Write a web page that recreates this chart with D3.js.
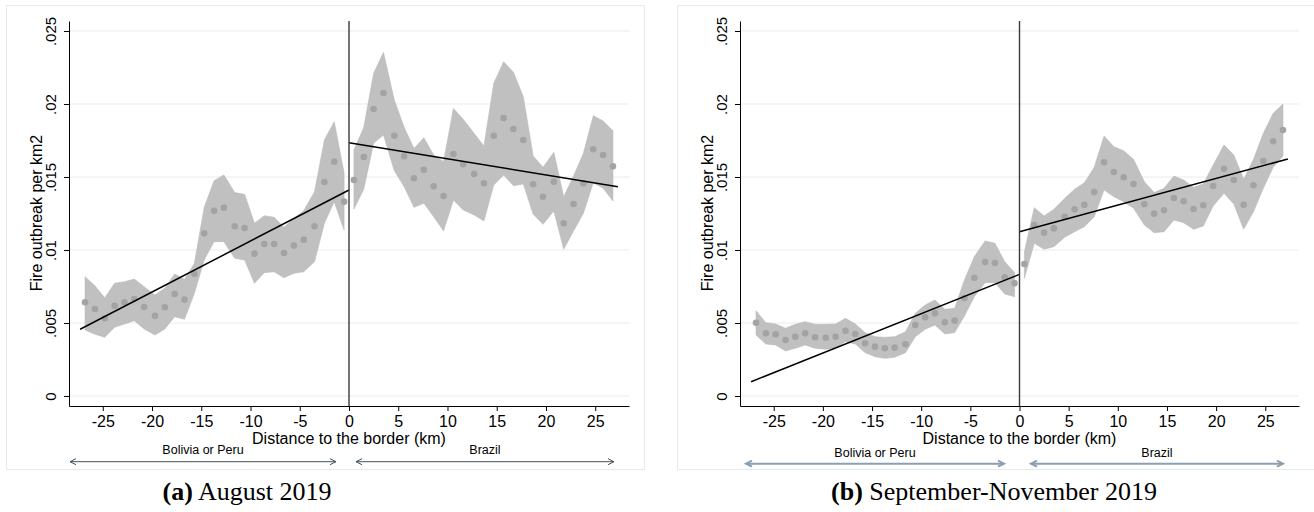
<!DOCTYPE html>
<html>
<head>
<meta charset="utf-8">
<script src="https://cdn.jsdelivr.net/npm/d3@7"></script>
<style>
  html, body { margin: 0; padding: 0; background: #fff; }
  svg { display: block; }
</style>
</head>
<body>
<svg id="chart" width="1314" height="512"></svg>
<script>
// ---------------- DATA ----------------
const leftBins  = [-26.8,-25.8,-24.8,-23.8,-22.8,-21.8,-20.8,-19.7,-18.7,-17.7,-16.7,-15.7,-14.7,-13.7,-12.7,-11.6,-10.6,-9.6,-8.6,-7.6,-6.6,-5.6,-4.6,-3.5,-2.5,-1.5,-0.5];
const rightBins = [0.5,1.5,2.5,3.5,4.6,5.6,6.6,7.6,8.6,9.6,10.6,11.6,12.7,13.7,14.7,15.7,16.7,17.7,18.7,19.7,20.8,21.8,22.8,23.8,24.8,25.8,26.8];

const xTicks = [-25,-20,-15,-10,-5,0,5,10,15,20,25];
const xTickLabels = ["-25","-20","-15","-10","-5","0","5","10","15","20","25"];
const yTicks = [0,0.005,0.01,0.015,0.02,0.025];
const yTickLabels = ["0",".005",".01",".015",".02",".025"];

// Panel (a) August 2019
const aLeftMean  = [0.00642,0.00596,0.00532,0.00618,0.00642,0.00664,0.0061,0.0055,0.00608,0.00699,0.0066,0.00838,0.01114,0.01269,0.0129,0.01162,0.01151,0.00975,0.01041,0.01041,0.00979,0.0103,0.01071,0.01162,0.01466,0.01605,0.01331];
const aLeftUpper = [0.00817,0.00755,0.00673,0.00772,0.00783,0.00801,0.00749,0.00692,0.00738,0.00836,0.00799,0.00909,0.01292,0.01475,0.01514,0.01393,0.01381,0.01183,0.01235,0.01224,0.01155,0.01217,0.01269,0.01399,0.01753,0.01879,0.01529];
const aLeftLower = [0.00452,0.00423,0.00402,0.00471,0.00493,0.00516,0.00459,0.00418,0.00459,0.00543,0.00525,0.00703,0.00932,0.01057,0.01057,0.00943,0.00932,0.00772,0.00845,0.00851,0.0081,0.0084,0.00851,0.0092,0.01183,0.01331,0.01137];
const aRightMean  = [0.01479,0.01637,0.01966,0.02075,0.01783,0.01642,0.01491,0.0155,0.01436,0.0137,0.01658,0.01587,0.01521,0.01457,0.01783,0.01904,0.01829,0.01753,0.0145,0.01365,0.01468,0.01183,0.01315,0.01457,0.0169,0.01651,0.01573];
const aRightUpper = [0.01685,0.0184,0.0221,0.02354,0.02027,0.0184,0.01696,0.01769,0.01651,0.01605,0.0197,0.01895,0.01799,0.01712,0.02142,0.0229,0.02217,0.0205,0.01644,0.01566,0.01669,0.01365,0.01507,0.01662,0.0192,0.01884,0.01817];
const aRightLower = [0.01279,0.01416,0.01731,0.01788,0.01543,0.01434,0.01292,0.0132,0.01228,0.0113,0.01342,0.01274,0.0124,0.01199,0.01445,0.01514,0.0144,0.01452,0.01245,0.01176,0.01267,0.01005,0.0113,0.01251,0.01461,0.01423,0.01336];
const aFitLeftX = [-27.3, 0],  aFitLeftY = [0.00457, 0.01411];
const aFitRightX = [0, 27.3],  aFitRightY = [0.01735, 0.01434];

// Panel (b) September-November 2019
const bLeftMean  = [0.00502,0.00429,0.00423,0.00384,0.00406,0.00429,0.00402,0.00399,0.00406,0.00447,0.00425,0.00361,0.00338,0.00327,0.00331,0.00354,0.00486,0.00539,0.00566,0.00505,0.00516,0.00671,0.0081,0.00918,0.00911,0.00813,0.00772];
const bLeftUpper = [0.00584,0.00502,0.00493,0.00464,0.00491,0.00509,0.00491,0.00491,0.00493,0.00532,0.00493,0.00434,0.00406,0.00402,0.00406,0.0044,0.00566,0.00623,0.00658,0.00594,0.00601,0.00795,0.00954,0.01062,0.01046,0.0092,0.00845];
const bLeftLower = [0.00418,0.00356,0.00349,0.00308,0.00327,0.00349,0.00327,0.0032,0.00327,0.00372,0.00356,0.00297,0.00269,0.00258,0.00265,0.00297,0.00406,0.00457,0.00486,0.00425,0.00434,0.00548,0.0068,0.00776,0.00776,0.00699,0.0068];
const bRightMean  = [0.00904,0.01171,0.01119,0.01148,0.01228,0.01279,0.0131,0.01397,0.01601,0.01534,0.01498,0.01452,0.01313,0.01249,0.01272,0.01356,0.01334,0.01281,0.01306,0.01438,0.01557,0.01479,0.0131,0.01443,0.0161,0.01745,0.01822];
const bRightUpper = [0.00988,0.0129,0.01233,0.01279,0.01354,0.01416,0.01461,0.01566,0.01781,0.01708,0.0168,0.01621,0.01468,0.01393,0.01423,0.01507,0.01479,0.01429,0.01452,0.01582,0.01719,0.01651,0.01484,0.01621,0.01799,0.01936,0.02];
const bRightLower = [0.00806,0.01046,0.01005,0.01023,0.01087,0.01125,0.0116,0.01228,0.01411,0.01365,0.01331,0.01286,0.01171,0.01119,0.01125,0.01205,0.01187,0.01142,0.01164,0.01301,0.01388,0.01315,0.01142,0.01262,0.01423,0.01566,0.01644];
const bFitLeftX = [-27.3, 0],  bFitLeftY = [0.00098, 0.00833];
const bFitRightX = [0, 27.3],  bFitRightY = [0.01125, 0.01623];

const yTitle = "Fire outbreak per km2";
const xTitle = "Distance to the border (km)";
const sideLabels = ["Bolivia or Peru", "Brazil"];
const captionTags = ["(a)", "(b)"];
const captionTexts = ["August 2019", "September-November 2019"];

// ---------------- DRAW ----------------
const svg = d3.select("#chart");
const SANS = "'Liberation Sans', Arial, Helvetica, sans-serif";
const SERIF = "'Liberation Serif', 'Times New Roman', serif";

function zip(xs, m, lo, hi) { return xs.map((x, i) => ({x, m: m[i], lo: lo[i], hi: hi[i]})); }

function drawPanel(cfg) {
  const g = svg.append("g");
  const x = d3.scaleLinear().domain([-28.43, 28.43]).range([cfg.x0, cfg.x1]);
  const y = d3.scaleLinear().domain([-0.000685, 0.025685]).range([406, 21]);

  // outer frame
  g.append("rect").attr("x", cfg.fx0 + 0.5).attr("y", 5.5)
    .attr("width", cfg.fx1 - cfg.fx0).attr("height", 464)
    .attr("fill", "none").attr("stroke", "#e4ebee").attr("stroke-width", 1);

  // gridlines
  g.selectAll(".grid").data(yTicks).enter().append("line")
    .attr("x1", cfg.x0).attr("x2", cfg.x1)
    .attr("y1", d => y(d)).attr("y2", d => y(d))
    .attr("stroke", "#e3edf0").attr("stroke-width", 1);

  const area = d3.area().x(d => x(d.x)).y0(d => y(d.lo)).y1(d => y(d.hi));
  const sides = [zip(leftBins, cfg.lm, cfg.ll, cfg.lu), zip(rightBins, cfg.rm, cfg.rl, cfg.ru)];
  sides.forEach(data => {
    g.append("path").datum(data).attr("d", area)
      .attr("fill", "#c0c0c0").attr("stroke", "#bbbbbb").attr("stroke-width", 0.6);
  });
  sides.forEach(data => {
    g.selectAll(null).data(data).enter().append("circle")
      .attr("cx", d => x(d.x)).attr("cy", d => y(d.m)).attr("r", 3.3)
      .attr("fill", "#a3a3a3");
  });

  // fitted lines
  const line = d3.line().x(d => x(d[0])).y(d => y(d[1]));
  [[cfg.flx, cfg.fly], [cfg.frx, cfg.fry]].forEach(([xs, ys]) => {
    g.append("path").datum(xs.map((v, i) => [v, ys[i]])).attr("d", line)
      .attr("fill", "none").attr("stroke", "#000").attr("stroke-width", 1.5);
  });

  // border line at 0
  g.append("line").attr("x1", x(0)).attr("x2", x(0)).attr("y1", 21).attr("y2", 406)
    .attr("stroke", "#3a3a3a").attr("stroke-width", 1.4);

  // axes
  const ya = g.append("g").attr("transform", `translate(${cfg.x0},0)`)
    .call(d3.axisLeft(y).tickValues(yTicks).tickFormat((d, i) => yTickLabels[i]).tickSize(5).tickSizeOuter(0));
  ya.selectAll("text").attr("transform", "rotate(-90)").attr("x", 0).attr("y", -13)
    .attr("dy", 0).attr("text-anchor", "middle")
    .attr("font-family", SANS).attr("font-size", 15).attr("fill", "#000");
  const xa = g.append("g").attr("transform", "translate(0,406)")
    .call(d3.axisBottom(x).tickValues(xTicks).tickFormat((d, i) => xTickLabels[i]).tickSize(5).tickSizeOuter(0));
  xa.selectAll("text").attr("y", 10).attr("font-family", SANS).attr("font-size", 16).attr("fill", "#000");
  [ya, xa].forEach(a => { a.select(".domain").attr("stroke", "#000"); a.selectAll(".tick line").attr("stroke", "#000"); });

  // titles
  g.append("text").attr("transform", `translate(${cfg.x0 - 27},213) rotate(-90)`)
    .attr("text-anchor", "middle").attr("font-family", SANS).attr("font-size", 16).text(yTitle);
  g.append("text").attr("x", x(0)).attr("y", 444).attr("text-anchor", "middle")
    .attr("font-family", SANS).attr("font-size", 16).text(xTitle);

  // arrows
  const ay = cfg.ay;
  [[cfg.a1, cfg.a2], [cfg.a3, cfg.a4]].forEach(([p, q], k) => {
    const ar = g.append("g").attr("stroke", cfg.ac).attr("stroke-width", cfg.aw).attr("fill", "none");
    ar.append("line").attr("x1", p).attr("x2", q).attr("y1", ay).attr("y2", ay);
    ar.append("path").attr("d", `M${p + 6},${ay - 3}L${p},${ay}L${p + 6},${ay + 3}`);
    ar.append("path").attr("d", `M${q - 6},${ay - 3}L${q},${ay}L${q - 6},${ay + 3}`);
    g.append("text").attr("x", (p + q) / 2).attr("y", cfg.ly).attr("text-anchor", "middle")
      .attr("font-family", SANS).attr("font-size", 12.5).text(sideLabels[k]);
  });

  // caption
  const cap = svg.append("text").attr("x", cfg.cx).attr("y", 500).attr("text-anchor", "middle")
    .attr("font-family", SERIF).attr("font-size", 26);
  cap.append("tspan").attr("font-weight", "bold").text(cfg.tag);
  cap.append("tspan").text(" " + cfg.caption);
}

drawPanel({
  x0: 69, x1: 629, fx0: 6, fx1: 644,
  lm: aLeftMean, ll: aLeftLower, lu: aLeftUpper,
  rm: aRightMean, rl: aRightLower, ru: aRightUpper,
  flx: aFitLeftX, fly: aFitLeftY, frx: aFitRightX, fry: aFitRightY,
  ay: 461.7, a1: 70, a2: 336, a3: 356, a4: 614, ac: "#44505c", aw: 1, ly: 454,
  cx: 247, tag: captionTags[0], caption: captionTexts[0]
});
drawPanel({
  x0: 740, x1: 1299, fx0: 677, fx1: 1320,
  lm: bLeftMean, ll: bLeftLower, lu: bLeftUpper,
  rm: bRightMean, rl: bRightLower, ru: bRightUpper,
  flx: bFitLeftX, fly: bFitLeftY, frx: bFitRightX, fry: bFitRightY,
  ay: 463.7, a1: 746, a2: 1004, a3: 1031, a4: 1283, ac: "#8a9fb1", aw: 2, ly: 457,
  cx: 994, tag: captionTags[1], caption: captionTexts[1]
});
</script>
</body>
</html>
